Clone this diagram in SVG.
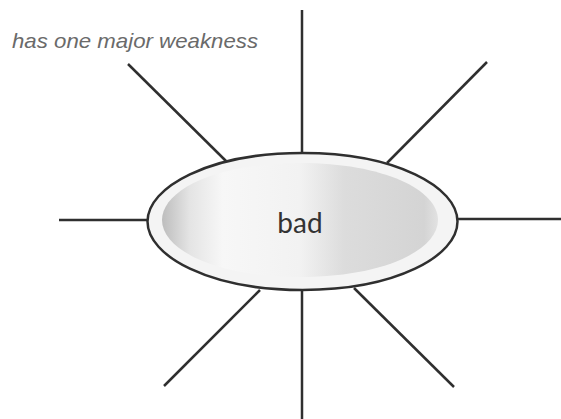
<svg xmlns="http://www.w3.org/2000/svg" width="561" height="419" viewBox="0 0 561 419">
  <style>
    .spoke { stroke: #2f2f2f; stroke-width: 2.5; fill: none; stroke-linecap: butt; }
    .note { font-family: "Liberation Sans", Arial, sans-serif; font-style: italic; font-size: 21px; fill: #6a6a6a; }
    .label { font-family: Lato, "Open Sans", sans-serif; font-size: 28px; fill: #333333; }
  </style>
  <defs>
    <linearGradient id="inner" x1="0" y1="0" x2="1" y2="0">
      <stop offset="0" stop-color="#bdbdbd"/>
      <stop offset="0.1" stop-color="#e4e4e4"/>
      <stop offset="0.22" stop-color="#f7f7f7"/>
      <stop offset="0.5" stop-color="#f2f2f2"/>
      <stop offset="0.66" stop-color="#dcdcdc"/>
      <stop offset="0.95" stop-color="#d4d4d4"/>
      <stop offset="1" stop-color="#e2e2e2"/>
    </linearGradient>
  </defs>
  <rect width="561" height="419" fill="#ffffff"/>
  <g id="connectors">
    <line class="spoke" x1="302" y1="10" x2="302" y2="154"/>
    <line class="spoke" x1="302" y1="290" x2="302" y2="419"/>
    <line class="spoke" x1="59" y1="220" x2="149" y2="220"/>
    <line class="spoke" x1="457" y1="219" x2="561" y2="219"/>
    <line class="spoke" x1="128" y1="64" x2="227" y2="162"/>
    <line class="spoke" x1="487" y1="62" x2="387" y2="163"/>
    <line class="spoke" x1="164" y1="386" x2="260" y2="290"/>
    <line class="spoke" x1="354" y1="288" x2="454" y2="387"/>
  </g>
  <g id="node-bad">
    <path d="M147.5,221.5 C147.5,187 209,153 302.5,153 C396,153 457.5,187 457.5,221.5 C457.5,256 396,290 302.5,290 C209,290 147.5,256 147.5,221.5 Z" fill="#f4f4f4" stroke="#2f2f2f" stroke-width="2.5"/>
    <path d="M162,220 C162,190 216,163 300,163 C384,163 438,190 438,220 C438,250 384,277 300,277 C216,277 162,250 162,220 Z" fill="url(#inner)"/>
    <text class="label" x="300" y="233" text-anchor="middle">bad</text>
  </g>
  <g id="note">
    <text class="note" x="12" y="48" textLength="246" lengthAdjust="spacingAndGlyphs">has one major weakness</text>
  </g>
</svg>
